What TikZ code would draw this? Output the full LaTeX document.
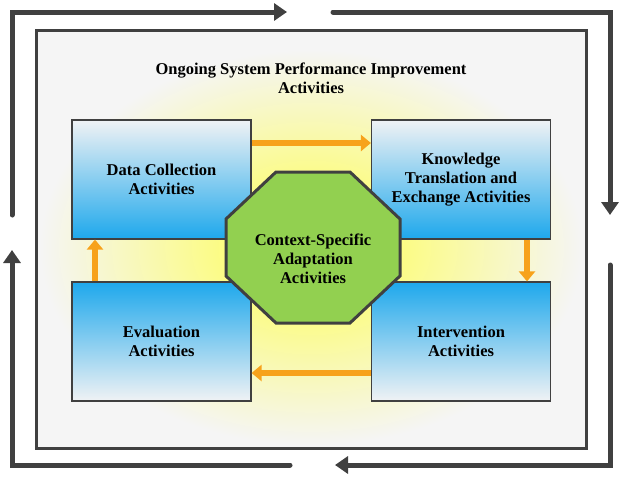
\documentclass[tikz,border=0pt]{standalone}
\usepackage{fontspec}
\setmainfont{Liberation Serif}
\usetikzlibrary{arrows.meta,shadings}
\definecolor{dk}{HTML}{404040}
\definecolor{org}{HTML}{F7A21B}
\definecolor{grn}{HTML}{92D050}
\definecolor{blu}{HTML}{1EA8EC}
\definecolor{pale}{HTML}{F0F2F4}
\newcommand{\lblfont}{\fontsize{16.5}{19}\selectfont\bfseries}
\tikzset{
  x=1pt,y=-1pt,
  loop/.style={draw=dk,line width=5pt,line cap=round,-{Triangle[length=13pt,width=17pt]}},
  flow/.style={draw=org,line width=6.5pt,-{Triangle[length=10pt,width=16pt]}},
  topbox/.style={draw=dk,line width=1.2pt,top color=pale,bottom color=blu,minimum width=179pt,minimum height=119pt,font=\lblfont,align=center,inner sep=0pt},
  botbox/.style={draw=dk,line width=1.2pt,top color=blu,bottom color=pale,minimum width=179pt,minimum height=119pt,font=\lblfont,align=center,inner sep=0pt},
  lbl/.style={font=\lblfont,align=center}
}
\begin{document}
\begin{tikzpicture}
\useasboundingbox (0,0) rectangle (623,479);
\fill[white] (0,0) rectangle (623,479);
% frame
\fill[gray!8] (36,30) rectangle (586,448);
\shade[inner color=yellow!70,outer color=gray!8] (40,50) rectangle (582,445);
\draw[dk,line width=3pt] (36,30) rectangle (586,448);
% outer loop arrows
\coordinate (a1) at (12,215); \coordinate (a2) at (12,12); \coordinate (a3) at (287,12);
\coordinate (b1) at (333,12); \coordinate (b2) at (610,12); \coordinate (b3) at (610,215);
\coordinate (c1) at (610,265); \coordinate (c2) at (610,465); \coordinate (c3) at (335,465);
\coordinate (d1) at (290,465); \coordinate (d2) at (12,465); \coordinate (d3) at (12,250);
\draw[loop] (a1)--(a2)--(a3);
\draw[loop] (b1)--(b2)--(b3);
\draw[loop] (c1)--(c2)--(c3);
\draw[loop] (d1)--(d2)--(d3);
\node[lbl] (title) at (311,78) {Ongoing System Performance Improvement\\Activities};
% boxes
\node[topbox] (dc) at (161.5,179.5) {Data Collection\\Activities};
\node[topbox] (kt) at (461,179.5) {Knowledge\\Translation and\\Exchange Activities};
\node[botbox] (ev) at (161.5,341.5) {Evaluation\\Activities};
\node[botbox] (iv) at (461,341.5) {Intervention\\Activities};
% flows
\draw[flow] (dc.east |- 0,143) -- (kt.west |- 0,143);
\draw[flow] (kt.south -| 527,0) -- (iv.north -| 527,0);
\draw[flow] (iv.west |- 0,373) -- (ev.east |- 0,373);
\draw[flow] (ev.north -| 95,0) -- (dc.south -| 95,0);
% octagon
\filldraw[fill=grn,draw=dk,line width=3pt,line join=miter]
 (276,172)--(350,172)--(400,219)--(400,276)--(350,323)--(276,323)--(226,276)--(226,219)--cycle;
\node[lbl] (ctx) at (313,259) {Context-Specific\\Adaptation\\Activities};
\end{tikzpicture}
\end{document}
